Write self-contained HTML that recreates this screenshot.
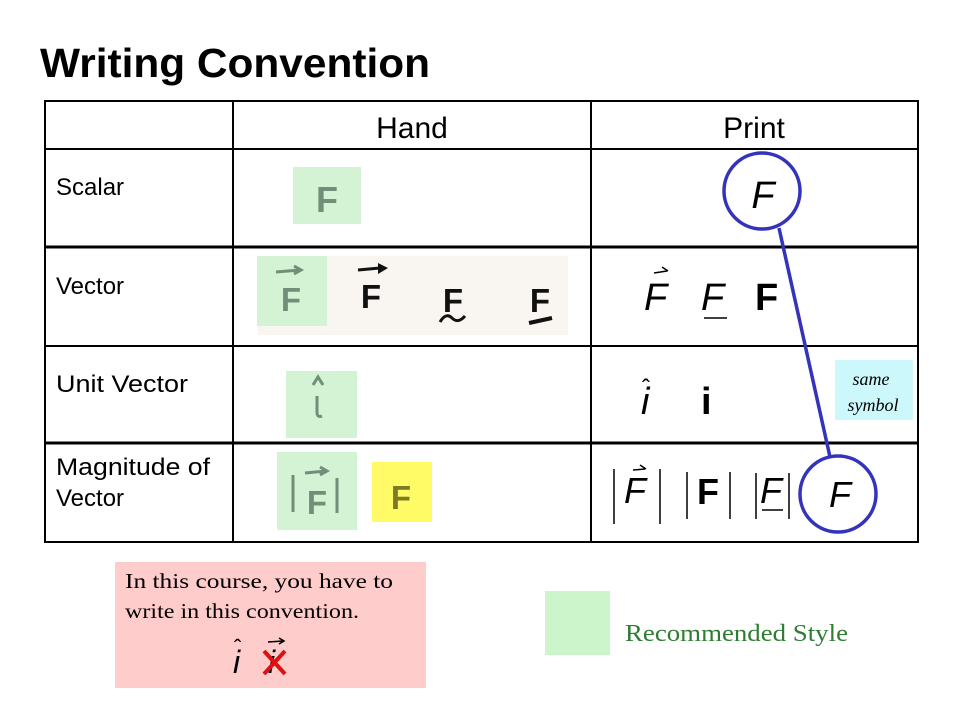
<!DOCTYPE html>
<html><head><meta charset="utf-8"><style>
html,body{margin:0;padding:0;background:#fff;width:960px;height:720px;overflow:hidden}
svg{display:block}
</style></head><body>
<svg width="960" height="720" viewBox="0 0 960 720" xmlns="http://www.w3.org/2000/svg" font-family="Liberation Sans, sans-serif">
<text x="40" y="77" font-size="41" font-weight="bold" textLength="390" lengthAdjust="spacingAndGlyphs">Writing Convention</text>

<!-- hand images -->
<rect x="293" y="167" width="68" height="57" fill="#d4f2d4"/>
<text x="327" y="212" font-size="36" fill="#6f8f78" text-anchor="middle" font-weight="bold">F</text>

<rect x="258" y="256" width="310" height="79" fill="#f9f6f1"/>
<rect x="257" y="256" width="70" height="70" fill="#d4f2d4"/>
<text x="291" y="311" font-size="33" fill="#6f8f78" text-anchor="middle" font-weight="bold">F</text>
<path d="M276 272 L300 270 M294 266 L301 270 L294 274" stroke="#6f8f78" stroke-width="3" fill="none"/>
<text x="371" y="308" font-size="33" fill="#111" text-anchor="middle" font-weight="bold">F</text>
<path d="M358 270 L380 268" stroke="#111" stroke-width="3"/>
<path d="M378 263 L388 268 L378 274 Z" fill="#111"/>
<text x="453" y="312" font-size="33" fill="#111" text-anchor="middle" font-weight="bold">F</text>
<path d="M440 322 Q446 312 452 318 Q458 324 465 316" stroke="#111" stroke-width="3" fill="none"/>
<text x="540" y="312" font-size="33" fill="#111" text-anchor="middle" font-weight="bold">F</text>
<path d="M529 323 L552 318" stroke="#111" stroke-width="4"/>

<rect x="286" y="371" width="71" height="67" fill="#d4f2d4"/>
<path d="M313 385 L318 377 L323 385" stroke="#6f8f78" stroke-width="3" fill="none"/>
<path d="M317 396 L317 412 Q317 418 322 416" stroke="#6f8f78" stroke-width="3" fill="none"/>

<rect x="277" y="452" width="80" height="78" fill="#d4f2d4"/>
<text x="317" y="514" font-size="33" fill="#6f8f78" text-anchor="middle" font-weight="bold">F</text>
<path d="M293 475 L293 512 M337 478 L337 513 M305 473 L326 471 M320 467 L327 471 L320 475" stroke="#6f8f78" stroke-width="3" fill="none"/>
<rect x="372" y="462" width="60" height="60" fill="#fffb66"/>
<text x="401" y="509" font-size="33" fill="#7c7a22" text-anchor="middle" font-weight="bold">F</text>

<!-- table -->
<g stroke="#000" stroke-width="2" fill="none">
<rect x="45" y="101" width="873" height="441"/>
<line x1="233" y1="101" x2="233" y2="542"/>
<line x1="591" y1="101" x2="591" y2="542"/>
<line x1="45" y1="149" x2="918" y2="149"/>
<line x1="45" y1="247" x2="918" y2="247" stroke-width="3"/>
<line x1="45" y1="346" x2="918" y2="346"/>
<line x1="45" y1="443" x2="918" y2="443" stroke-width="3"/>
</g>
<text x="412" y="138" font-size="30" text-anchor="middle">Hand</text>
<text x="754" y="138" font-size="30" text-anchor="middle">Print</text>
<g font-size="24">
<text x="56" y="195">Scalar</text>
<text x="56" y="294">Vector</text>
<text x="56" y="392" textLength="132" lengthAdjust="spacingAndGlyphs">Unit Vector</text>
<text x="56" y="475" textLength="154" lengthAdjust="spacingAndGlyphs">Magnitude of</text>
<text x="56" y="506">Vector</text>
</g>

<!-- print column -->
<text x="763" y="208" font-size="38" font-style="italic" text-anchor="middle">F</text>
<g font-size="38">
<text x="644" y="310" font-style="italic">F</text>
<path d="M654 273 L667 271 M662 267 L668 271" stroke="#000" stroke-width="1.5" fill="none"/>
<text x="701" y="310" font-style="italic">F</text>
<line x1="704" y1="318" x2="727" y2="318" stroke="#000" stroke-width="1.5"/>
<text x="755" y="310" font-weight="bold">F</text>
<text x="641" y="414" font-style="italic">i</text>
<text x="642" y="396" font-size="24">ˆ</text>
<text x="701" y="414" font-weight="bold">i</text>
</g>
<g font-size="36">
<line x1="614" y1="469" x2="614" y2="524" stroke="#000" stroke-width="1.5"/>
<text x="624" y="503" font-style="italic">F</text>
<path d="M633 470 L645 469 M640 465 L646 469" stroke="#000" stroke-width="1.5" fill="none"/>
<line x1="660" y1="469" x2="660" y2="524" stroke="#000" stroke-width="1.5"/>
<line x1="687" y1="472" x2="687" y2="519" stroke="#000" stroke-width="1.5"/>
<text x="697" y="504" font-weight="bold">F</text>
<line x1="730" y1="472" x2="730" y2="519" stroke="#000" stroke-width="1.5"/>
<line x1="756" y1="473" x2="756" y2="519" stroke="#000" stroke-width="1.5"/>
<text x="760" y="503" font-style="italic">F</text>
<line x1="762" y1="510" x2="783" y2="510" stroke="#000" stroke-width="1.5"/>
<line x1="789" y1="473" x2="789" y2="519" stroke="#000" stroke-width="1.5"/>
<text x="840" y="507" font-style="italic" text-anchor="middle">F</text>
</g>
<rect x="835" y="360" width="78" height="60" fill="#ccf7fb"/>
<text x="871" y="385" font-size="18" font-family="Liberation Serif, serif" font-style="italic" text-anchor="middle">same</text>
<text x="873" y="411" font-size="18" font-family="Liberation Serif, serif" font-style="italic" text-anchor="middle">symbol</text>
<g stroke="#3333bb" stroke-width="3.5" fill="none">
<circle cx="762" cy="191" r="38"/>
<circle cx="838" cy="494" r="38"/>
<line x1="779" y1="228" x2="830" y2="457"/>
</g>

<!-- bottom -->
<rect x="115" y="562" width="311" height="126" fill="#ffcccc"/>
<g font-family="Liberation Serif, serif" font-size="21">
<text x="125" y="588" textLength="268" lengthAdjust="spacingAndGlyphs">In this course, you have to</text>
<text x="125" y="618" textLength="234" lengthAdjust="spacingAndGlyphs">write in this convention.</text>
</g>
<text x="233" y="673" font-size="32" font-style="italic">i</text>
<text x="234" y="655" font-size="22">ˆ</text>
<text x="268" y="673" font-size="32" font-style="italic">i</text>
<path d="M268 642 L283 641 M279 638 L284 641 L279 644" stroke="#000" stroke-width="1.5" fill="none"/>
<path d="M264 651 L285 674 M285 651 L264 674" stroke="#e01010" stroke-width="4"/>
<rect x="545" y="591" width="65" height="64" fill="#ccf5cc"/>
<text x="625" y="641" font-family="Liberation Serif, serif" font-size="24" fill="#2e7d32" textLength="223" lengthAdjust="spacingAndGlyphs">Recommended Style</text>
</svg>
</body></html>
